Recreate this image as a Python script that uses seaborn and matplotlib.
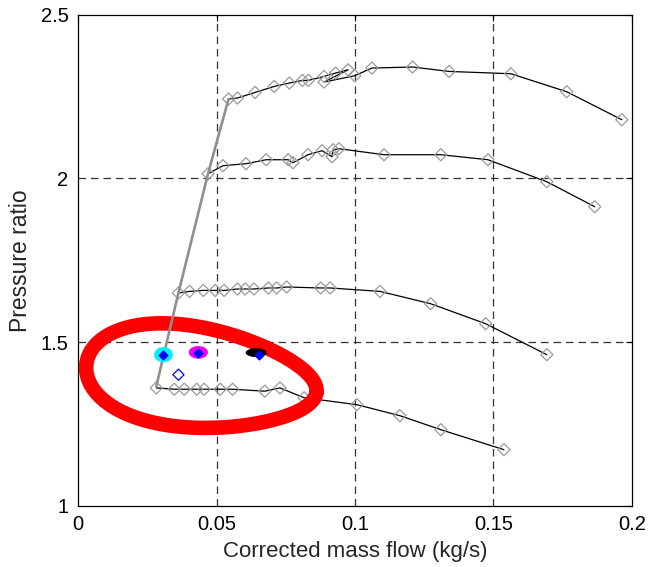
import numpy as np
import pandas as pd
import matplotlib
matplotlib.use("Agg")
import matplotlib.pyplot as plt
from matplotlib.path import Path
import seaborn as sns

# ---------------- data ----------------
# speed line 1 (highest speed)
s1_x = [0.0543, 0.0575, 0.0639, 0.0708, 0.0763, 0.0810, 0.0831, 0.0888, 0.0930, 0.0975,
        0.0888, 0.0999, 0.1061, 0.1208, 0.1340, 0.1563, 0.1765, 0.1964]
s1_y = [2.2425, 2.2456, 2.2627, 2.2810, 2.2914, 2.2993, 2.2993, 2.3115, 2.3220, 2.3320,
        2.2944, 2.3137, 2.3372, 2.3403, 2.3268, 2.3198, 2.2648, 2.1793]
# speed line 2
s2_x = [0.0469, 0.0523, 0.0606, 0.0679, 0.0758, 0.0776, 0.0830, 0.0881, 0.0917, 0.0921,
        0.0942, 0.1105, 0.1310, 0.1480, 0.1693, 0.1866]
s2_y = [2.0144, 2.0388, 2.0449, 2.0571, 2.0571, 2.0479, 2.0724, 2.0846, 2.0663, 2.0877,
        2.0907, 2.0724, 2.0724, 2.0571, 1.9899, 1.9136]
# speed line 3
s3_x = [0.0362, 0.0402, 0.0452, 0.0495, 0.0527, 0.0575, 0.0603, 0.0635, 0.0687, 0.0717,
        0.0753, 0.0876, 0.0910, 0.1090, 0.1273, 0.1472, 0.1693]
s3_y = [1.6500, 1.6549, 1.6579, 1.6579, 1.6579, 1.6622, 1.6622, 1.6622, 1.6653, 1.6653,
        1.6683, 1.6653, 1.6653, 1.6549, 1.6173, 1.5562, 1.4615]
# speed line 4 (lowest speed)
s4_x = [0.0282, 0.0347, 0.0383, 0.0428, 0.0455, 0.0513, 0.0558, 0.0674, 0.0729, 0.0816,
        0.1007, 0.1162, 0.1310, 0.1538]
s4_y = [1.3600, 1.3560, 1.3560, 1.3560, 1.3560, 1.3560, 1.3560, 1.3500, 1.3600, 1.3300,
        1.3088, 1.2752, 1.2324, 1.1713]
# surge line
surge_x = [0.0282, 0.0362, 0.0469, 0.0543]
surge_y = [1.3650, 1.6500, 2.0144, 2.2425]
# operating point clouds
blob_x = [0.0308, 0.0434, 0.0643]
blob_y = [1.4615, 1.4686, 1.4676]
blob_colors = ["#00f0f8", "#ee00ee", "#000000"]
# filled blue diamonds
blue_x = [0.0308, 0.0434, 0.0653]
blue_y = [1.4615, 1.4676, 1.4615]
# open blue diamond
open_x = [0.0362]
open_y = [1.4004]
# red highlight loop (center in data units, semi axes in pixels, tilt, egg factor)
ell_cx, ell_cy = 0.0445, 1.3900
ell_a_px, ell_b_px, ell_ang, ell_egg = 116.0, 50.0, 7.0, 0.2

xticks = [0, 0.05, 0.1, 0.15, 0.2]
xticklabels = ["0", "0.05", "0.1", "0.15", "0.2"]
yticks = [1, 1.5, 2, 2.5]
yticklabels = ["1", "1.5", "2", "2.5"]

# ---------------- figure ----------------
sns.set_style("white")
plt.rcParams["font.family"] = ["Liberation Sans", "DejaVu Sans"]

fig = plt.figure(figsize=(6.52, 5.67), dpi=100)
ax = fig.add_axes([0.12, 0.108, 0.849, 0.866])
ax.set_xlim(0, 0.2)
ax.set_ylim(1, 2.5)

# grid
for gx in xticks[1:-1]:
    ax.axvline(gx, color="#333333", lw=0.9, ls=(0, (6, 4)), zorder=0.5)
for gy in yticks[1:-1]:
    ax.axhline(gy, color="#333333", lw=0.9, ls=(0, (6, 4)), zorder=0.5)

diamond_kw = dict(marker="D", s=38, facecolor="none", edgecolor="#9a9a9a",
                  linewidth=0.9, zorder=2.2, legend=False)
for sx, sy in [(s1_x, s1_y), (s2_x, s2_y), (s3_x, s3_y), (s4_x, s4_y)]:
    df = pd.DataFrame({"x": sx, "y": sy})
    sns.lineplot(data=df, x="x", y="y", sort=False, estimator=None, color="black",
                 lw=0.9, ax=ax, zorder=2)
    sns.scatterplot(data=df, x="x", y="y", ax=ax, **diamond_kw)

# red loop (pixel-space shape converted into data units)
px_per_x = 554 / 0.2
px_per_y = 491 / 1.5
t = np.linspace(0, 2 * np.pi, 400)
phi = np.deg2rad(ell_ang)
u = ell_a_px * np.cos(t)
v = -ell_b_px * np.sin(t) * (1 - ell_egg * np.cos(t))   # screen-down offset
dx = u * np.cos(phi) - v * np.sin(phi)
dy = u * np.sin(phi) + v * np.cos(phi)
ex = ell_cx + dx / px_per_x
ey = ell_cy - dy / px_per_y
ax.plot(ex, ey, color="#ff0000", lw=10.5, solid_joinstyle="round", zorder=3)

# surge line
sns.lineplot(data=pd.DataFrame({"x": surge_x, "y": surge_y}), x="x", y="y", sort=False,
             estimator=None, color="#8f8f8f", lw=1.9, ax=ax, zorder=4)

# operating point clouds as elliptical markers
theta = np.linspace(0, 2 * np.pi, 60)
blob_shapes = [(1.0, 0.82), (1.0, 0.66), (1.0, 0.42)]
blob_sizes = [180, 190, 230]
for bx, by, bc, (w, h), bs in zip(blob_x, blob_y, blob_colors, blob_shapes, blob_sizes):
    verts = np.column_stack([w * np.cos(theta), h * np.sin(theta)])
    mk = Path(verts, closed=True)
    sns.scatterplot(x=[bx], y=[by], marker=mk, s=bs, color=bc, edgecolor="none",
                    ax=ax, zorder=5, legend=False)

sns.scatterplot(x=blue_x, y=blue_y, marker="D", s=24, color="#0000ff", edgecolor="#0000ff",
                linewidth=0.5, ax=ax, zorder=6, legend=False)
sns.scatterplot(x=open_x, y=open_y, marker="D", s=32, facecolor="none", edgecolor="#0000ff",
                linewidth=0.9, ax=ax, zorder=6, legend=False)

# axes styling
ax.set_xticks(xticks)
ax.set_xticklabels(xticklabels)
ax.set_yticks(yticks)
ax.set_yticklabels(yticklabels)
ax.tick_params(direction="in", length=4, width=0.8, top=True, right=True,
               labelsize=14.5, pad=7, colors="black")
for sp in ax.spines.values():
    sp.set_visible(True)
    sp.set_color("black")
    sp.set_linewidth(0.9)
ax.set_xlabel("Corrected mass flow (kg/s)", fontsize=16, labelpad=5)
ax.set_ylabel("Pressure ratio", fontsize=16.5, labelpad=6)

fig.savefig("out.png", dpi=100)
